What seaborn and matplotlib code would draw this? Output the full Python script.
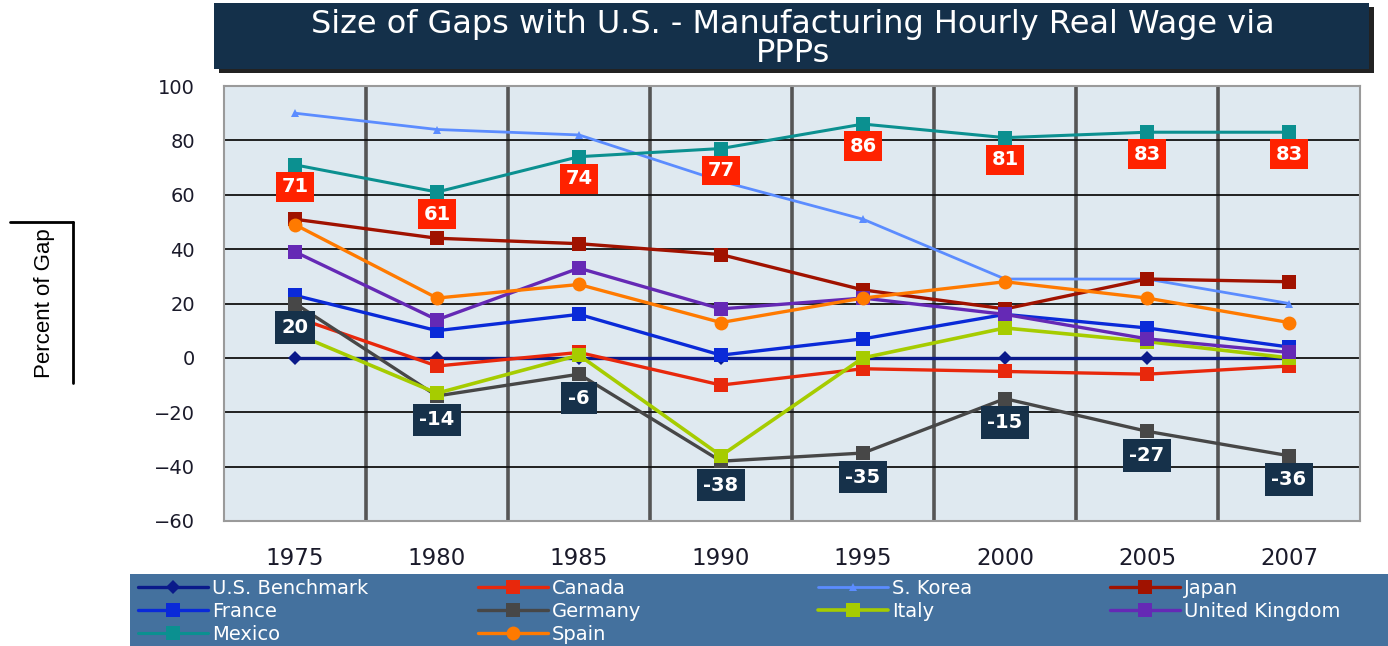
import numpy as np
import pandas as pd
import seaborn as sns
import matplotlib.pyplot as plt
from matplotlib.patches import Rectangle
from matplotlib.lines import Line2D

years = ["1975", "1980", "1985", "1990", "1995", "2000", "2005", "2007"]
us_benchmark = [0, 0, 0, 0, 0, 0, 0, 0]
canada = [15, -3, 2, -10, -4, -5, -6, -3]
s_korea = [90, 84, 82, 65, 51, 29, 29, 20]
japan = [51, 44, 42, 38, 25, 18, 29, 28]
france = [23, 10, 16, 1, 7, 16, 11, 4]
germany = [20, -14, -6, -38, -35, -15, -27, -36]
italy = [9, -13, 1, -36, 0, 11, 6, 0]
united_kingdom = [39, 14, 33, 18, 22, 16, 7, 2]
mexico = [71, 61, 74, 77, 86, 81, 83, 83]
spain = [49, 22, 27, 13, 22, 28, 22, 13]
y_ticks = [-60, -40, -20, 0, 20, 40, 60, 80, 100]

series = [
    ("U.S. Benchmark", us_benchmark, "#0a1a8a", "D", 7, 2.4),
    ("Canada", canada, "#e8280c", "s", 10, 2.4),
    ("S. Korea", s_korea, "#5b8cff", "^", 6, 2.0),
    ("Japan", japan, "#a01200", "s", 10, 2.4),
    ("France", france, "#0a2ad8", "s", 10, 2.4),
    ("Germany", germany, "#474747", "s", 10, 2.4),
    ("Italy", italy, "#a6cc00", "s", 10, 2.6),
    ("United Kingdom", united_kingdom, "#6529b5", "s", 10, 2.4),
    ("Mexico", mexico, "#0b9090", "s", 10, 2.2),
    ("Spain", spain, "#ff7a00", "o", 10, 2.4),
]

sns.set_style("white")
plt.rcParams['font.family'] = ['DejaVu Sans']

W, H = 1388, 646
fig = plt.figure(figsize=(W / 100, H / 100), dpi=100)
ax = fig.add_axes([224 / W, 1 - 521 / H, (1360 - 224) / W, (521 - 86) / H])
ax.set_facecolor("#dfe9f0")

pos = np.arange(len(years))
handles = {}
for name, vals, col, mk, ms, lw in series:
    sns.lineplot(x=pos, y=vals, ax=ax, color=col, marker=mk, markersize=ms,
                 linewidth=lw, markeredgewidth=0, label=name, legend=False,
                 zorder=3)
    handles[name] = Line2D([], [], color=col, marker=mk, markersize=ms,
                           linewidth=lw, markeredgewidth=0)

# labels for Mexico and Germany
for i, v in enumerate(mexico):
    ax.annotate(str(v), (pos[i], v), xytext=(0, -22), textcoords="offset pixels",
                ha="center", va="center", color="white", fontsize=14, fontweight="bold",
                bbox=dict(boxstyle="square,pad=0.28", fc="#ff2200", ec="none"), zorder=5)
for i, v in enumerate(germany):
    ax.annotate(str(v), (pos[i], v), xytext=(0, -24), textcoords="offset pixels",
                ha="center", va="center", color="white", fontsize=14, fontweight="bold",
                bbox=dict(boxstyle="square,pad=0.35", fc="#16314a", ec="none"), zorder=5)

ax.set_xlim(-0.5, len(years) - 0.5)
ax.set_ylim(-60, 100)
ax.set_xticks(pos)
ax.set_xticklabels(years)
ax.set_yticks(y_ticks)
ax.set_xticks(np.arange(0.5, len(years) - 1, 1), minor=True)
ax.tick_params(axis="both", which="both", length=0)
ax.tick_params(axis="y", pad=21, labelsize=14, labelcolor="#1a1a2a")
ax.tick_params(axis="x", pad=19, labelsize=16.5, labelcolor="#1a1a2a")
ax.grid(axis="y", which="major", color="#111111", linewidth=1.3, zorder=1)
ax.grid(axis="x", which="minor", color="#555555", linewidth=2.6, zorder=1)
ax.set_axisbelow(True)
for s in ax.spines.values():
    s.set_color("#9a9a9a")
    s.set_linewidth(1.5)
ax.set_xlabel("")
ax.set_ylabel("")

# Title box with shadow
fig.patches.append(Rectangle((219 / W, 1 - 73 / H), (1374 - 219) / W, 66 / H,
                             transform=fig.transFigure, fc="#222222", ec="none", zorder=0))
fig.patches.append(Rectangle((214 / W, 1 - 69 / H), (1369 - 214) / W, 66 / H,
                             transform=fig.transFigure, fc="#14304a", ec="none", zorder=1))
fig.text(793 / W, 1 - 39 / H, "Size of Gaps with U.S. - Manufacturing Hourly Real Wage via\nPPPs",
         ha="center", va="center", color="white", fontsize=23, linespacing=0.9, zorder=2)

# y label with bracket
fig.text(45 / W, 1 - 303 / H, "Percent of Gap", rotation=90, ha="center", va="center",
         fontsize=16, color="black", family=["Liberation Sans", "DejaVu Sans"])
fig.lines.append(Line2D([10 / W, 73 / W], [1 - 222 / H, 1 - 222 / H], transform=fig.transFigure,
                        color="black", linewidth=2))
fig.lines.append(Line2D([73 / W, 73 / W], [1 - 222 / H, 1 - 383 / H], transform=fig.transFigure,
                        color="black", linewidth=2))

# Legend box
fig.patches.append(Rectangle((130 / W, 0), (W - 130) / W, 72 / H,
                             transform=fig.transFigure, fc="#44719e", ec="none", zorder=0))
columns = [["U.S. Benchmark", "France", "Mexico"],
           ["Canada", "Germany", "Spain"],
           ["S. Korea", "Italy"],
           ["Japan", "United Kingdom"]]
col_x = [138, 478, 818, 1110]
for names, xpx in zip(columns, col_x):
    leg = fig.legend([handles[n] for n in names], names, loc="upper left",
                     bbox_to_anchor=(xpx / W, 1 - 579 / H), frameon=False, ncol=1,
                     fontsize=14, handlelength=3.6, handletextpad=0.2,
                     labelspacing=0.2, borderaxespad=0, borderpad=0)
    for t in leg.get_texts():
        t.set_color("white")

fig.savefig("out.png", dpi=100)
